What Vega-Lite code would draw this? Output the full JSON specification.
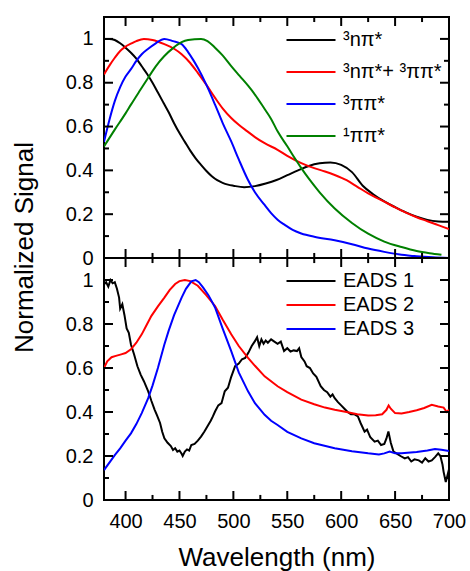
{
  "$schema": "https://vega.github.io/schema/vega-lite/v6.json",
  "padding": {"left": 10, "top": 15, "right": 0, "bottom": 2},
  "background": "white",
  "config": {
    "view": {"stroke": "black", "strokeWidth": 2},
    "font": "Liberation Sans",
    "rule": {"color": "black", "strokeWidth": 2},
    "axis": {
      "grid": false, "domain": false, "ticks": false, "tickSize": 0, "labelPadding": 11,
      "labelFont": "Liberation Sans", "labelFontSize": 20, "labelColor": "black",
      "titleFont": "Liberation Sans", "titleFontSize": 26, "titleFontWeight": "normal", "titleColor": "black",
      "labelFlush": false, "labelOverlap": false
    },
    "legend": {
      "orient": "none", "padding": 0,
      "symbolType": "M-2.45,0H2.45", "symbolSize": 400, "symbolStrokeWidth": 2,
      "labelFont": "Liberation Sans", "labelFontSize": 20, "labelColor": "black",
      "labelOffset": 21, "labelLimit": 400
    }
  },
  "spacing": 0,
  "bounds": "flush",
  "resolve": {"scale": {"color": "independent"}, "legend": {"color": "independent"}},
  "datasets": {
    "xt": [{"v":400,"m":1},{"v":425,"m":0},{"v":450,"m":1},{"v":475,"m":0},{"v":500,"m":1},{"v":525,"m":0},{"v":550,"m":1},{"v":575,"m":0},{"v":600,"m":1},{"v":625,"m":0},{"v":650,"m":1},{"v":675,"m":0},{"v":700,"m":1}],
    "yt": [{"v":0,"m":1},{"v":0.1,"m":0},{"v":0.2,"m":1},{"v":0.3,"m":0},{"v":0.4,"m":1},{"v":0.5,"m":0},{"v":0.6,"m":1},{"v":0.7,"m":0},{"v":0.8,"m":1},{"v":0.9,"m":0},{"v":1.0,"m":1}],
    "top": [
      {"s":"³nπ*","x":380,"y":1.0},{"s":"³nπ*","x":385,"y":1.0},{"s":"³nπ*","x":390,"y":0.995},{"s":"³nπ*","x":395,"y":0.98},{"s":"³nπ*","x":400,"y":0.96},{"s":"³nπ*","x":405,"y":0.937},{"s":"³nπ*","x":410,"y":0.91},{"s":"³nπ*","x":415,"y":0.875},{"s":"³nπ*","x":420,"y":0.84},{"s":"³nπ*","x":425,"y":0.8},{"s":"³nπ*","x":430,"y":0.755},{"s":"³nπ*","x":435,"y":0.71},{"s":"³nπ*","x":440,"y":0.665},{"s":"³nπ*","x":445,"y":0.615},{"s":"³nπ*","x":450,"y":0.57},{"s":"³nπ*","x":455,"y":0.53},{"s":"³nπ*","x":460,"y":0.49},{"s":"³nπ*","x":465,"y":0.455},{"s":"³nπ*","x":470,"y":0.425},{"s":"³nπ*","x":475,"y":0.397},{"s":"³nπ*","x":480,"y":0.373},{"s":"³nπ*","x":485,"y":0.355},{"s":"³nπ*","x":490,"y":0.343},{"s":"³nπ*","x":495,"y":0.335},{"s":"³nπ*","x":500,"y":0.33},{"s":"³nπ*","x":510,"y":0.323},{"s":"³nπ*","x":520,"y":0.328},{"s":"³nπ*","x":530,"y":0.34},{"s":"³nπ*","x":540,"y":0.356},{"s":"³nπ*","x":550,"y":0.378},{"s":"³nπ*","x":560,"y":0.4},{"s":"³nπ*","x":570,"y":0.42},{"s":"³nπ*","x":580,"y":0.432},{"s":"³nπ*","x":590,"y":0.436},{"s":"³nπ*","x":600,"y":0.425},{"s":"³nπ*","x":610,"y":0.392},{"s":"³nπ*","x":620,"y":0.33},{"s":"³nπ*","x":630,"y":0.29},{"s":"³nπ*","x":640,"y":0.258},{"s":"³nπ*","x":650,"y":0.232},{"s":"³nπ*","x":660,"y":0.208},{"s":"³nπ*","x":670,"y":0.188},{"s":"³nπ*","x":680,"y":0.174},{"s":"³nπ*","x":690,"y":0.167},{"s":"³nπ*","x":700,"y":0.165},
      {"s":"³nπ*+ ³ππ*","x":380,"y":0.838},{"s":"³nπ*+ ³ππ*","x":385,"y":0.878},{"s":"³nπ*+ ³ππ*","x":390,"y":0.914},{"s":"³nπ*+ ³ππ*","x":395,"y":0.945},{"s":"³nπ*+ ³ππ*","x":400,"y":0.965},{"s":"³nπ*+ ³ππ*","x":405,"y":0.978},{"s":"³nπ*+ ³ππ*","x":410,"y":0.99},{"s":"³nπ*+ ³ππ*","x":417,"y":1.0},{"s":"³nπ*+ ³ππ*","x":425,"y":0.995},{"s":"³nπ*+ ³ππ*","x":436,"y":0.976},{"s":"³nπ*+ ³ππ*","x":445,"y":0.955},{"s":"³nπ*+ ³ππ*","x":452,"y":0.93},{"s":"³nπ*+ ³ππ*","x":460,"y":0.89},{"s":"³nπ*+ ³ππ*","x":467,"y":0.845},{"s":"³nπ*+ ³ππ*","x":475,"y":0.79},{"s":"³nπ*+ ³ππ*","x":483,"y":0.731},{"s":"³nπ*+ ³ππ*","x":490,"y":0.683},{"s":"³nπ*+ ³ππ*","x":498,"y":0.639},{"s":"³nπ*+ ³ππ*","x":505,"y":0.608},{"s":"³nπ*+ ³ππ*","x":513,"y":0.578},{"s":"³nπ*+ ³ππ*","x":520,"y":0.552},{"s":"³nπ*+ ³ππ*","x":529,"y":0.524},{"s":"³nπ*+ ³ππ*","x":541,"y":0.494},{"s":"³nπ*+ ³ππ*","x":550,"y":0.466},{"s":"³nπ*+ ³ππ*","x":563,"y":0.433},{"s":"³nπ*+ ³ππ*","x":575,"y":0.41},{"s":"³nπ*+ ³ππ*","x":585,"y":0.395},{"s":"³nπ*+ ³ππ*","x":594,"y":0.379},{"s":"³nπ*+ ³ππ*","x":605,"y":0.355},{"s":"³nπ*+ ³ππ*","x":615,"y":0.325},{"s":"³nπ*+ ³ππ*","x":625,"y":0.295},{"s":"³nπ*+ ³ππ*","x":640,"y":0.257},{"s":"³nπ*+ ³ππ*","x":650,"y":0.231},{"s":"³nπ*+ ³ππ*","x":660,"y":0.207},{"s":"³nπ*+ ³ππ*","x":670,"y":0.186},{"s":"³nπ*+ ³ππ*","x":680,"y":0.168},{"s":"³nπ*+ ³ππ*","x":690,"y":0.15},{"s":"³nπ*+ ³ππ*","x":700,"y":0.132},
      {"s":"³ππ*","x":380,"y":0.53},{"s":"³ππ*","x":385,"y":0.63},{"s":"³ππ*","x":390,"y":0.716},{"s":"³ππ*","x":395,"y":0.78},{"s":"³ππ*","x":400,"y":0.828},{"s":"³ππ*","x":405,"y":0.862},{"s":"³ππ*","x":410,"y":0.9},{"s":"³ππ*","x":415,"y":0.93},{"s":"³ππ*","x":421,"y":0.955},{"s":"³ππ*","x":428,"y":0.98},{"s":"³ππ*","x":436,"y":1.0},{"s":"³ππ*","x":444,"y":0.99},{"s":"³ππ*","x":452,"y":0.976},{"s":"³ππ*","x":458,"y":0.94},{"s":"³ππ*","x":463,"y":0.902},{"s":"³ππ*","x":467,"y":0.868},{"s":"³ππ*","x":475,"y":0.79},{"s":"³ππ*","x":483,"y":0.7},{"s":"³ππ*","x":490,"y":0.617},{"s":"³ππ*","x":498,"y":0.532},{"s":"³ππ*","x":505,"y":0.45},{"s":"³ππ*","x":513,"y":0.362},{"s":"³ππ*","x":520,"y":0.3},{"s":"³ππ*","x":529,"y":0.242},{"s":"³ππ*","x":535,"y":0.205},{"s":"³ππ*","x":541,"y":0.175},{"s":"³ππ*","x":548,"y":0.15},{"s":"³ππ*","x":555,"y":0.128},{"s":"³ππ*","x":563,"y":0.112},{"s":"³ππ*","x":575,"y":0.097},{"s":"³ππ*","x":594,"y":0.081},{"s":"³ππ*","x":610,"y":0.063},{"s":"³ππ*","x":625,"y":0.043},{"s":"³ππ*","x":640,"y":0.028},{"s":"³ππ*","x":656,"y":0.015},{"s":"³ππ*","x":670,"y":0.008},{"s":"³ππ*","x":685,"y":0.003},{"s":"³ππ*","x":700,"y":0.0},
      {"s":"¹ππ*","x":380,"y":0.509},{"s":"¹ππ*","x":390,"y":0.586},{"s":"¹ππ*","x":400,"y":0.66},{"s":"¹ππ*","x":405,"y":0.7},{"s":"¹ππ*","x":413,"y":0.762},{"s":"¹ππ*","x":421,"y":0.823},{"s":"¹ππ*","x":428,"y":0.875},{"s":"¹ππ*","x":436,"y":0.922},{"s":"¹ππ*","x":444,"y":0.958},{"s":"¹ππ*","x":452,"y":0.985},{"s":"¹ππ*","x":458,"y":0.995},{"s":"¹ππ*","x":470,"y":1.0},{"s":"¹ππ*","x":476,"y":0.99},{"s":"¹ππ*","x":483,"y":0.96},{"s":"¹ππ*","x":490,"y":0.925},{"s":"¹ππ*","x":498,"y":0.876},{"s":"¹ππ*","x":506,"y":0.83},{"s":"¹ππ*","x":514,"y":0.784},{"s":"¹ππ*","x":520,"y":0.746},{"s":"¹ππ*","x":529,"y":0.68},{"s":"¹ππ*","x":535,"y":0.635},{"s":"¹ππ*","x":541,"y":0.578},{"s":"¹ππ*","x":550,"y":0.51},{"s":"¹ππ*","x":557,"y":0.455},{"s":"¹ππ*","x":563,"y":0.41},{"s":"¹ππ*","x":570,"y":0.362},{"s":"¹ππ*","x":580,"y":0.3},{"s":"¹ππ*","x":594,"y":0.226},{"s":"¹ππ*","x":610,"y":0.16},{"s":"¹ππ*","x":625,"y":0.111},{"s":"¹ππ*","x":640,"y":0.075},{"s":"¹ππ*","x":656,"y":0.05},{"s":"¹ππ*","x":670,"y":0.032},{"s":"¹ππ*","x":682,"y":0.022},{"s":"¹ππ*","x":693,"y":0.015}
    ],
    "bottom": [
      {"s":"EADS 1","x":380,"y":0.98},{"s":"EADS 1","x":382,"y":0.99},{"s":"EADS 1","x":384,"y":0.97},{"s":"EADS 1","x":386,"y":1.0},{"s":"EADS 1","x":388,"y":0.985},{"s":"EADS 1","x":390,"y":0.99},{"s":"EADS 1","x":392,"y":0.96},{"s":"EADS 1","x":394,"y":0.92},{"s":"EADS 1","x":395,"y":0.87},{"s":"EADS 1","x":397,"y":0.89},{"s":"EADS 1","x":399,"y":0.84},{"s":"EADS 1","x":401,"y":0.78},{"s":"EADS 1","x":403,"y":0.76},{"s":"EADS 1","x":405,"y":0.707},{"s":"EADS 1","x":408,"y":0.66},{"s":"EADS 1","x":411,"y":0.608},{"s":"EADS 1","x":414,"y":0.57},{"s":"EADS 1","x":417,"y":0.54},{"s":"EADS 1","x":421,"y":0.494},{"s":"EADS 1","x":424,"y":0.45},{"s":"EADS 1","x":427,"y":0.41},{"s":"EADS 1","x":429,"y":0.387},{"s":"EADS 1","x":432,"y":0.35},{"s":"EADS 1","x":434,"y":0.31},{"s":"EADS 1","x":436,"y":0.28},{"s":"EADS 1","x":439,"y":0.26},{"s":"EADS 1","x":442,"y":0.245},{"s":"EADS 1","x":444,"y":0.227},{"s":"EADS 1","x":446,"y":0.235},{"s":"EADS 1","x":448,"y":0.22},{"s":"EADS 1","x":450,"y":0.225},{"s":"EADS 1","x":452,"y":0.21},{"s":"EADS 1","x":453,"y":0.2},{"s":"EADS 1","x":455,"y":0.22},{"s":"EADS 1","x":457,"y":0.23},{"s":"EADS 1","x":459,"y":0.225},{"s":"EADS 1","x":461,"y":0.25},{"s":"EADS 1","x":464,"y":0.255},{"s":"EADS 1","x":467,"y":0.27},{"s":"EADS 1","x":470,"y":0.288},{"s":"EADS 1","x":473,"y":0.31},{"s":"EADS 1","x":476,"y":0.335},{"s":"EADS 1","x":479,"y":0.36},{"s":"EADS 1","x":481,"y":0.38},{"s":"EADS 1","x":483,"y":0.402},{"s":"EADS 1","x":486,"y":0.43},{"s":"EADS 1","x":489,"y":0.44},{"s":"EADS 1","x":492,"y":0.494},{"s":"EADS 1","x":495,"y":0.51},{"s":"EADS 1","x":498,"y":0.56},{"s":"EADS 1","x":501.6,"y":0.608},{"s":"EADS 1","x":505,"y":0.62},{"s":"EADS 1","x":508,"y":0.64},{"s":"EADS 1","x":511,"y":0.646},{"s":"EADS 1","x":514,"y":0.67},{"s":"EADS 1","x":517,"y":0.7},{"s":"EADS 1","x":520,"y":0.722},{"s":"EADS 1","x":522,"y":0.74},{"s":"EADS 1","x":524,"y":0.7},{"s":"EADS 1","x":526,"y":0.73},{"s":"EADS 1","x":528,"y":0.71},{"s":"EADS 1","x":530,"y":0.725},{"s":"EADS 1","x":532,"y":0.715},{"s":"EADS 1","x":535,"y":0.73},{"s":"EADS 1","x":538,"y":0.72},{"s":"EADS 1","x":541,"y":0.71},{"s":"EADS 1","x":544,"y":0.72},{"s":"EADS 1","x":547,"y":0.677},{"s":"EADS 1","x":550,"y":0.69},{"s":"EADS 1","x":553,"y":0.675},{"s":"EADS 1","x":556,"y":0.68},{"s":"EADS 1","x":559,"y":0.677},{"s":"EADS 1","x":561,"y":0.69},{"s":"EADS 1","x":563,"y":0.65},{"s":"EADS 1","x":566,"y":0.63},{"s":"EADS 1","x":568,"y":0.608},{"s":"EADS 1","x":571,"y":0.6},{"s":"EADS 1","x":574,"y":0.575},{"s":"EADS 1","x":577,"y":0.56},{"s":"EADS 1","x":581,"y":0.517},{"s":"EADS 1","x":584,"y":0.5},{"s":"EADS 1","x":587,"y":0.49},{"s":"EADS 1","x":590,"y":0.47},{"s":"EADS 1","x":592,"y":0.48},{"s":"EADS 1","x":594,"y":0.463},{"s":"EADS 1","x":597,"y":0.445},{"s":"EADS 1","x":600,"y":0.43},{"s":"EADS 1","x":603,"y":0.415},{"s":"EADS 1","x":606,"y":0.4},{"s":"EADS 1","x":609,"y":0.39},{"s":"EADS 1","x":612,"y":0.39},{"s":"EADS 1","x":615.5,"y":0.38},{"s":"EADS 1","x":618,"y":0.35},{"s":"EADS 1","x":621.7,"y":0.311},{"s":"EADS 1","x":624,"y":0.32},{"s":"EADS 1","x":627,"y":0.285},{"s":"EADS 1","x":631,"y":0.265},{"s":"EADS 1","x":634,"y":0.27},{"s":"EADS 1","x":637,"y":0.25},{"s":"EADS 1","x":640,"y":0.255},{"s":"EADS 1","x":642,"y":0.28},{"s":"EADS 1","x":643.8,"y":0.311},{"s":"EADS 1","x":646,"y":0.26},{"s":"EADS 1","x":648.5,"y":0.22},{"s":"EADS 1","x":652,"y":0.21},{"s":"EADS 1","x":655,"y":0.2},{"s":"EADS 1","x":659,"y":0.189},{"s":"EADS 1","x":662,"y":0.195},{"s":"EADS 1","x":665,"y":0.175},{"s":"EADS 1","x":668,"y":0.185},{"s":"EADS 1","x":672,"y":0.18},{"s":"EADS 1","x":675,"y":0.17},{"s":"EADS 1","x":678,"y":0.19},{"s":"EADS 1","x":681,"y":0.175},{"s":"EADS 1","x":684,"y":0.18},{"s":"EADS 1","x":687,"y":0.195},{"s":"EADS 1","x":690,"y":0.212},{"s":"EADS 1","x":692,"y":0.2},{"s":"EADS 1","x":694,"y":0.16},{"s":"EADS 1","x":695,"y":0.128},{"s":"EADS 1","x":697,"y":0.082},{"s":"EADS 1","x":698.5,"y":0.11},{"s":"EADS 1","x":700,"y":0.14},
      {"s":"EADS 2","x":380,"y":0.6},{"s":"EADS 2","x":383,"y":0.63},{"s":"EADS 2","x":387,"y":0.649},{"s":"EADS 2","x":391,"y":0.655},{"s":"EADS 2","x":396,"y":0.662},{"s":"EADS 2","x":400,"y":0.668},{"s":"EADS 2","x":405,"y":0.685},{"s":"EADS 2","x":410,"y":0.715},{"s":"EADS 2","x":415,"y":0.753},{"s":"EADS 2","x":420,"y":0.8},{"s":"EADS 2","x":424,"y":0.837},{"s":"EADS 2","x":430,"y":0.88},{"s":"EADS 2","x":436,"y":0.92},{"s":"EADS 2","x":441,"y":0.955},{"s":"EADS 2","x":446,"y":0.982},{"s":"EADS 2","x":450,"y":0.995},{"s":"EADS 2","x":455,"y":1.0},{"s":"EADS 2","x":460,"y":0.995},{"s":"EADS 2","x":467,"y":0.974},{"s":"EADS 2","x":475,"y":0.93},{"s":"EADS 2","x":483,"y":0.882},{"s":"EADS 2","x":490,"y":0.82},{"s":"EADS 2","x":498,"y":0.753},{"s":"EADS 2","x":505,"y":0.7},{"s":"EADS 2","x":513.6,"y":0.646},{"s":"EADS 2","x":520,"y":0.61},{"s":"EADS 2","x":529,"y":0.562},{"s":"EADS 2","x":541,"y":0.517},{"s":"EADS 2","x":550,"y":0.49},{"s":"EADS 2","x":563,"y":0.456},{"s":"EADS 2","x":575,"y":0.435},{"s":"EADS 2","x":585,"y":0.42},{"s":"EADS 2","x":594,"y":0.41},{"s":"EADS 2","x":605,"y":0.4},{"s":"EADS 2","x":615,"y":0.39},{"s":"EADS 2","x":625,"y":0.384},{"s":"EADS 2","x":632,"y":0.385},{"s":"EADS 2","x":638,"y":0.39},{"s":"EADS 2","x":642,"y":0.41},{"s":"EADS 2","x":644,"y":0.43},{"s":"EADS 2","x":646,"y":0.415},{"s":"EADS 2","x":650,"y":0.395},{"s":"EADS 2","x":656,"y":0.393},{"s":"EADS 2","x":663,"y":0.4},{"s":"EADS 2","x":670,"y":0.408},{"s":"EADS 2","x":677,"y":0.418},{"s":"EADS 2","x":684,"y":0.433},{"s":"EADS 2","x":690,"y":0.425},{"s":"EADS 2","x":695,"y":0.42},{"s":"EADS 2","x":698,"y":0.4},{"s":"EADS 2","x":700,"y":0.41},
      {"s":"EADS 3","x":380,"y":0.136},{"s":"EADS 3","x":385,"y":0.17},{"s":"EADS 3","x":390,"y":0.204},{"s":"EADS 3","x":395,"y":0.235},{"s":"EADS 3","x":400,"y":0.27},{"s":"EADS 3","x":405,"y":0.303},{"s":"EADS 3","x":410,"y":0.345},{"s":"EADS 3","x":415,"y":0.395},{"s":"EADS 3","x":421,"y":0.463},{"s":"EADS 3","x":425,"y":0.52},{"s":"EADS 3","x":430,"y":0.6},{"s":"EADS 3","x":436,"y":0.707},{"s":"EADS 3","x":440,"y":0.77},{"s":"EADS 3","x":445,"y":0.84},{"s":"EADS 3","x":452,"y":0.92},{"s":"EADS 3","x":456,"y":0.96},{"s":"EADS 3","x":461,"y":0.994},{"s":"EADS 3","x":465,"y":1.0},{"s":"EADS 3","x":468,"y":0.99},{"s":"EADS 3","x":472,"y":0.965},{"s":"EADS 3","x":477,"y":0.93},{"s":"EADS 3","x":483,"y":0.875},{"s":"EADS 3","x":490,"y":0.78},{"s":"EADS 3","x":498,"y":0.677},{"s":"EADS 3","x":505,"y":0.58},{"s":"EADS 3","x":513.6,"y":0.494},{"s":"EADS 3","x":520,"y":0.44},{"s":"EADS 3","x":529,"y":0.387},{"s":"EADS 3","x":535,"y":0.36},{"s":"EADS 3","x":541,"y":0.341},{"s":"EADS 3","x":550,"y":0.31},{"s":"EADS 3","x":563,"y":0.28},{"s":"EADS 3","x":575,"y":0.258},{"s":"EADS 3","x":594,"y":0.235},{"s":"EADS 3","x":610,"y":0.222},{"s":"EADS 3","x":625,"y":0.212},{"s":"EADS 3","x":635,"y":0.207},{"s":"EADS 3","x":640,"y":0.212},{"s":"EADS 3","x":645,"y":0.22},{"s":"EADS 3","x":650,"y":0.212},{"s":"EADS 3","x":656,"y":0.212},{"s":"EADS 3","x":670,"y":0.218},{"s":"EADS 3","x":680,"y":0.225},{"s":"EADS 3","x":687,"y":0.232},{"s":"EADS 3","x":693,"y":0.228},{"s":"EADS 3","x":700,"y":0.223}
    ]
  },
  "vconcat": [
    {
      "width": 345, "height": 241,
      "layer": [
        {
          "data": {"name": "top"},
          "mark": {"type": "line", "interpolate": "monotone", "strokeWidth": 2, "clip": true},
          "encoding": {
            "x": {"field": "x", "type": "quantitative", "scale": {"domain": [380, 700], "nice": false, "zero": false},
              "axis": {"orient": "bottom", "values": [400,450,500,550,600,650,700], "labels": false, "title": null}},
            "y": {"field": "y", "type": "quantitative", "scale": {"domain": [0, 1.1], "nice": false},
              "axis": {"orient": "left", "values": [0,0.2,0.4,0.6,0.8,1], "format": ".1~f",
                "title": "Normalized Signal", "titleY": 230, "titlePadding": 28}},
            "color": {"field": "s", "type": "nominal",
              "scale": {"domain": ["³nπ*", "³nπ*+ ³ππ*", "³ππ*", "¹ππ*"], "range": ["#000000", "#ff0000", "#0000ff", "#008000"]},
              "legend": {"title": null, "rowPadding": 11, "legendX": 196, "legendY": 12}}
          }
        },
        {"data": {"name": "xt"}, "transform": [{"filter": "datum.m == 1"}], "mark": "rule",
          "encoding": {"x": {"field": "v", "type": "quantitative"}, "y": {"datum": 0}, "y2": {"datum": 0.041}}},
        {"data": {"name": "xt"}, "transform": [{"filter": "datum.m == 0"}], "mark": "rule",
          "encoding": {"x": {"field": "v", "type": "quantitative"}, "y": {"datum": 0}, "y2": {"datum": 0.023}}},
        {"data": {"name": "xt"}, "transform": [{"filter": "datum.m == 1"}], "mark": "rule",
          "encoding": {"x": {"field": "v", "type": "quantitative"}, "y": {"datum": 1.1}, "y2": {"datum": 1.059}}},
        {"data": {"name": "xt"}, "transform": [{"filter": "datum.m == 0"}], "mark": "rule",
          "encoding": {"x": {"field": "v", "type": "quantitative"}, "y": {"datum": 1.1}, "y2": {"datum": 1.077}}},
        {"data": {"name": "yt"}, "transform": [{"filter": "datum.m == 1"}], "mark": "rule",
          "encoding": {"y": {"field": "v", "type": "quantitative"}, "x": {"datum": 380}, "x2": {"datum": 388.35}}},
        {"data": {"name": "yt"}, "transform": [{"filter": "datum.m == 0"}], "mark": "rule",
          "encoding": {"y": {"field": "v", "type": "quantitative"}, "x": {"datum": 380}, "x2": {"datum": 384.64}}},
        {"data": {"name": "yt"}, "transform": [{"filter": "datum.m == 1"}], "mark": "rule",
          "encoding": {"y": {"field": "v", "type": "quantitative"}, "x": {"datum": 700}, "x2": {"datum": 691.65}}},
        {"data": {"name": "yt"}, "transform": [{"filter": "datum.m == 0"}], "mark": "rule",
          "encoding": {"y": {"field": "v", "type": "quantitative"}, "x": {"datum": 700}, "x2": {"datum": 695.36}}}
      ]
    },
    {
      "width": 345, "height": 242,
      "layer": [
        {
          "data": {"name": "bottom"},
          "mark": {"type": "line", "strokeWidth": 2, "clip": true},
          "encoding": {
            "x": {"field": "x", "type": "quantitative", "scale": {"domain": [380, 700], "nice": false, "zero": false},
              "axis": {"orient": "bottom", "values": [400,450,500,550,600,650,700],
                "title": "Wavelength (nm)", "titlePadding": 13}},
            "y": {"field": "y", "type": "quantitative", "scale": {"domain": [0, 1.1], "nice": false},
              "axis": {"orient": "left", "values": [0,0.2,0.4,0.6,0.8,1], "format": ".1~f", "title": null}},
            "color": {"field": "s", "type": "nominal",
              "scale": {"domain": ["EADS 1", "EADS 2", "EADS 3"], "range": ["#000000", "#ff0000", "#0000ff"]},
              "legend": {"title": null, "rowPadding": 3, "legendX": 196, "legendY": 12}}
          }
        },
        {"data": {"name": "xt"}, "transform": [{"filter": "datum.m == 1"}], "mark": "rule",
          "encoding": {"x": {"field": "v", "type": "quantitative"}, "y": {"datum": 0}, "y2": {"datum": 0.041}}},
        {"data": {"name": "xt"}, "transform": [{"filter": "datum.m == 0"}], "mark": "rule",
          "encoding": {"x": {"field": "v", "type": "quantitative"}, "y": {"datum": 0}, "y2": {"datum": 0.023}}},
        {"data": {"name": "xt"}, "transform": [{"filter": "datum.m == 1"}], "mark": "rule",
          "encoding": {"x": {"field": "v", "type": "quantitative"}, "y": {"datum": 1.1}, "y2": {"datum": 1.059}}},
        {"data": {"name": "xt"}, "transform": [{"filter": "datum.m == 0"}], "mark": "rule",
          "encoding": {"x": {"field": "v", "type": "quantitative"}, "y": {"datum": 1.1}, "y2": {"datum": 1.077}}},
        {"data": {"name": "yt"}, "transform": [{"filter": "datum.m == 1"}], "mark": "rule",
          "encoding": {"y": {"field": "v", "type": "quantitative"}, "x": {"datum": 380}, "x2": {"datum": 388.35}}},
        {"data": {"name": "yt"}, "transform": [{"filter": "datum.m == 0"}], "mark": "rule",
          "encoding": {"y": {"field": "v", "type": "quantitative"}, "x": {"datum": 380}, "x2": {"datum": 384.64}}},
        {"data": {"name": "yt"}, "transform": [{"filter": "datum.m == 1"}], "mark": "rule",
          "encoding": {"y": {"field": "v", "type": "quantitative"}, "x": {"datum": 700}, "x2": {"datum": 691.65}}},
        {"data": {"name": "yt"}, "transform": [{"filter": "datum.m == 0"}], "mark": "rule",
          "encoding": {"y": {"field": "v", "type": "quantitative"}, "x": {"datum": 700}, "x2": {"datum": 695.36}}}
      ]
    }
  ]
}
